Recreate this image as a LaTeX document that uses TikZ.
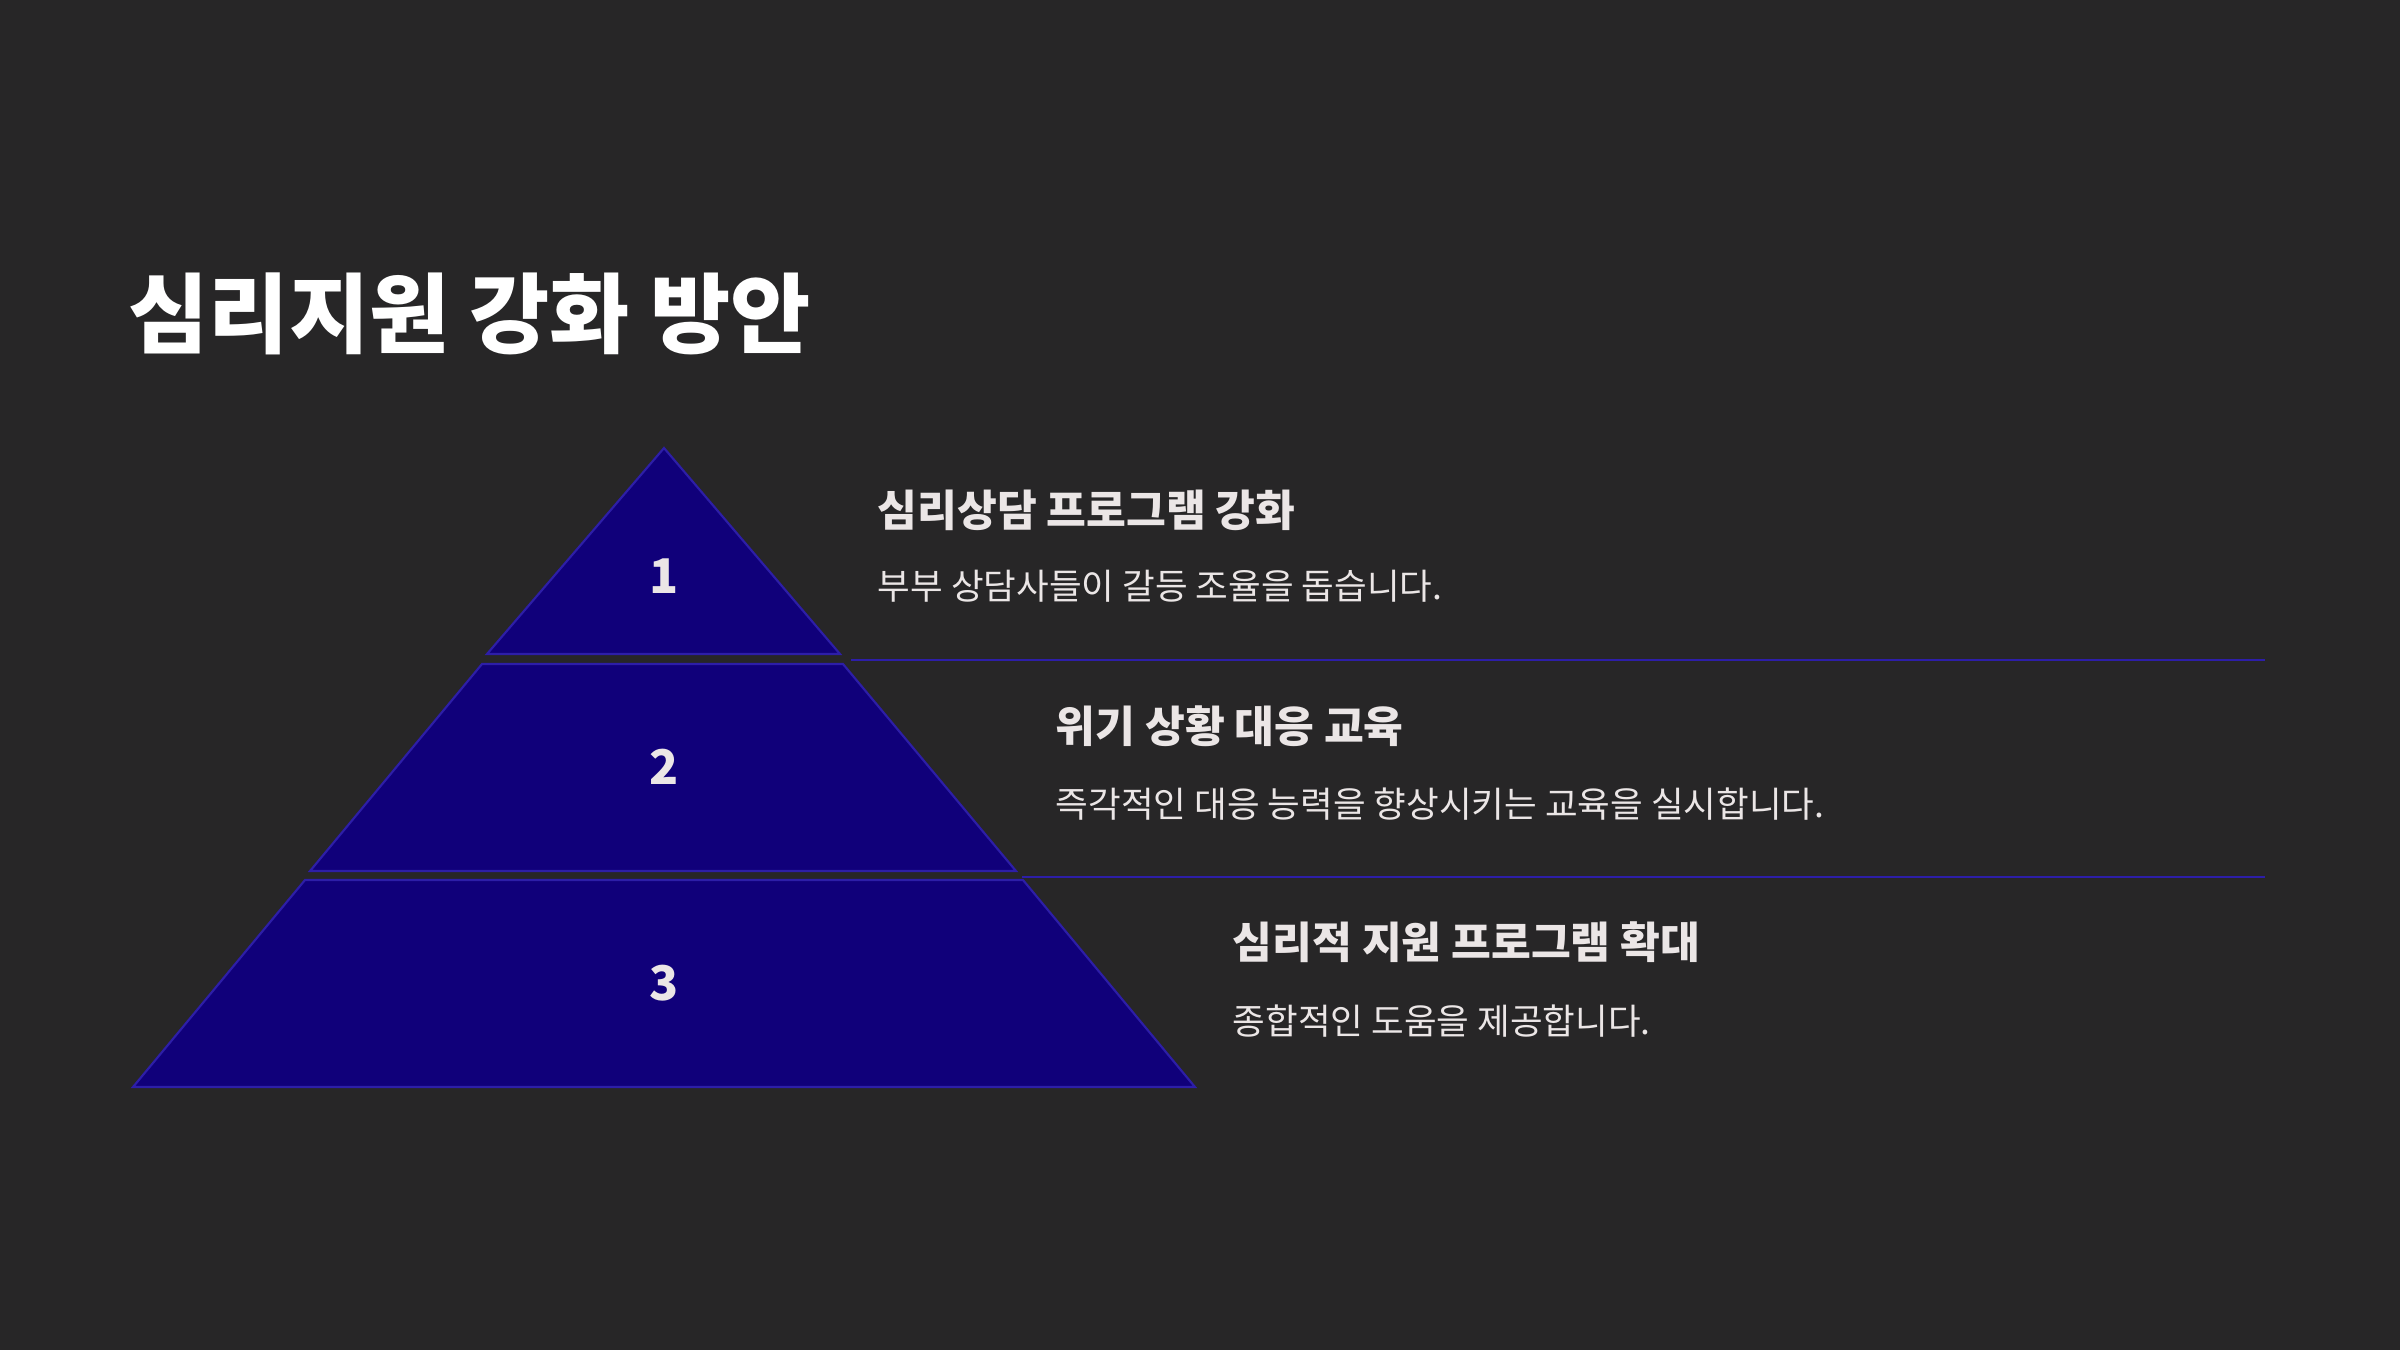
\documentclass[tikz,border=0pt]{standalone}
\usepackage{fontspec}
\setmainfont{Noto Sans CJK KR}
\usepackage{tikz}

\definecolor{bgdark}{RGB}{39,38,39}
\definecolor{tierfill}{RGB}{16,0,122}
\definecolor{tierline}{RGB}{45,30,168}
\definecolor{softwhite}{RGB}{235,230,230}

\tikzset{
  tier/.style={fill=tierfill, draw=tierline, line width=0.6pt, line join=miter},
  divider/.style={draw=tierline, line width=0.6pt},
  num/.style={text=softwhite, font=\fontsize{13.6}{16}\selectfont\bfseries, inner sep=0pt},
  heading/.style={anchor=west, text=softwhite, font=\fontsize{12.3}{15}\selectfont\bfseries, inner sep=0pt},
  desc/.style={anchor=west, text=softwhite, font=\fontsize{10.1}{12}\selectfont, inner sep=0pt}
}

\begin{document}
\begin{tikzpicture}[x=0.01cm,y=-0.01cm]

\def\xmin{0}
  \def\xmax{2400}
  \def\ymin{0}
  \def\ymax{1350}

\fill[bgdark] (\xmin,\ymin) rectangle (\xmax,\ymax);
\useasboundingbox (\xmin,\ymin) rectangle (\xmax,\ymax);

% title
\node[anchor=west, inner sep=0pt, text=white, font=\fontsize{24.8}{30}\selectfont\bfseries] (title) at (128,314) {심리지원 강화 방안};

% pyramid tiers
\filldraw[tier] (664,448) -- (840,654) -- (487,654) -- cycle;
\filldraw[tier] (482,664) -- (843,664) -- (1016,871) -- (310,871) -- cycle;
\filldraw[tier] (305,880) -- (1023,880) -- (1195,1087) -- (133,1087) -- cycle;

% tier numbers
        \foreach \y / \n in {576/1, 767/2, 983/3}
                 \node[num] (num\n) at (664,\y) {\n};

% divider lines
\coordinate (divA1) at (851,660);
\coordinate (divA2) at (2265,660);
\coordinate (divB1) at (1022,877);
\coordinate (divB2) at (2265,877);
\draw[divider] (divA1) -- (divA2);
\draw[divider] (divB1) -- (divB2);

% tier 1 text
\node[heading] (head1) at (877,510) {심리상담 프로그램 강화};
\node[desc] (desc1) at (877,586) {부부 상담사들이 갈등 조율을 돕습니다.};

% tier 2 text
\node[heading] (head2) at (1055,726) {위기 상황 대응 교육};
\node[desc] (desc2) at (1055,804) {즉각적인 대응 능력을 향상시키는 교육을 실시합니다.};

% tier 3 text
\node[heading] (head3) at (1232,942) {심리적 지원 프로그램 확대};
\node[desc] (desc3) at (1232,1021) {종합적인 도움을 제공합니다.};

\end{tikzpicture}
\end{document}
